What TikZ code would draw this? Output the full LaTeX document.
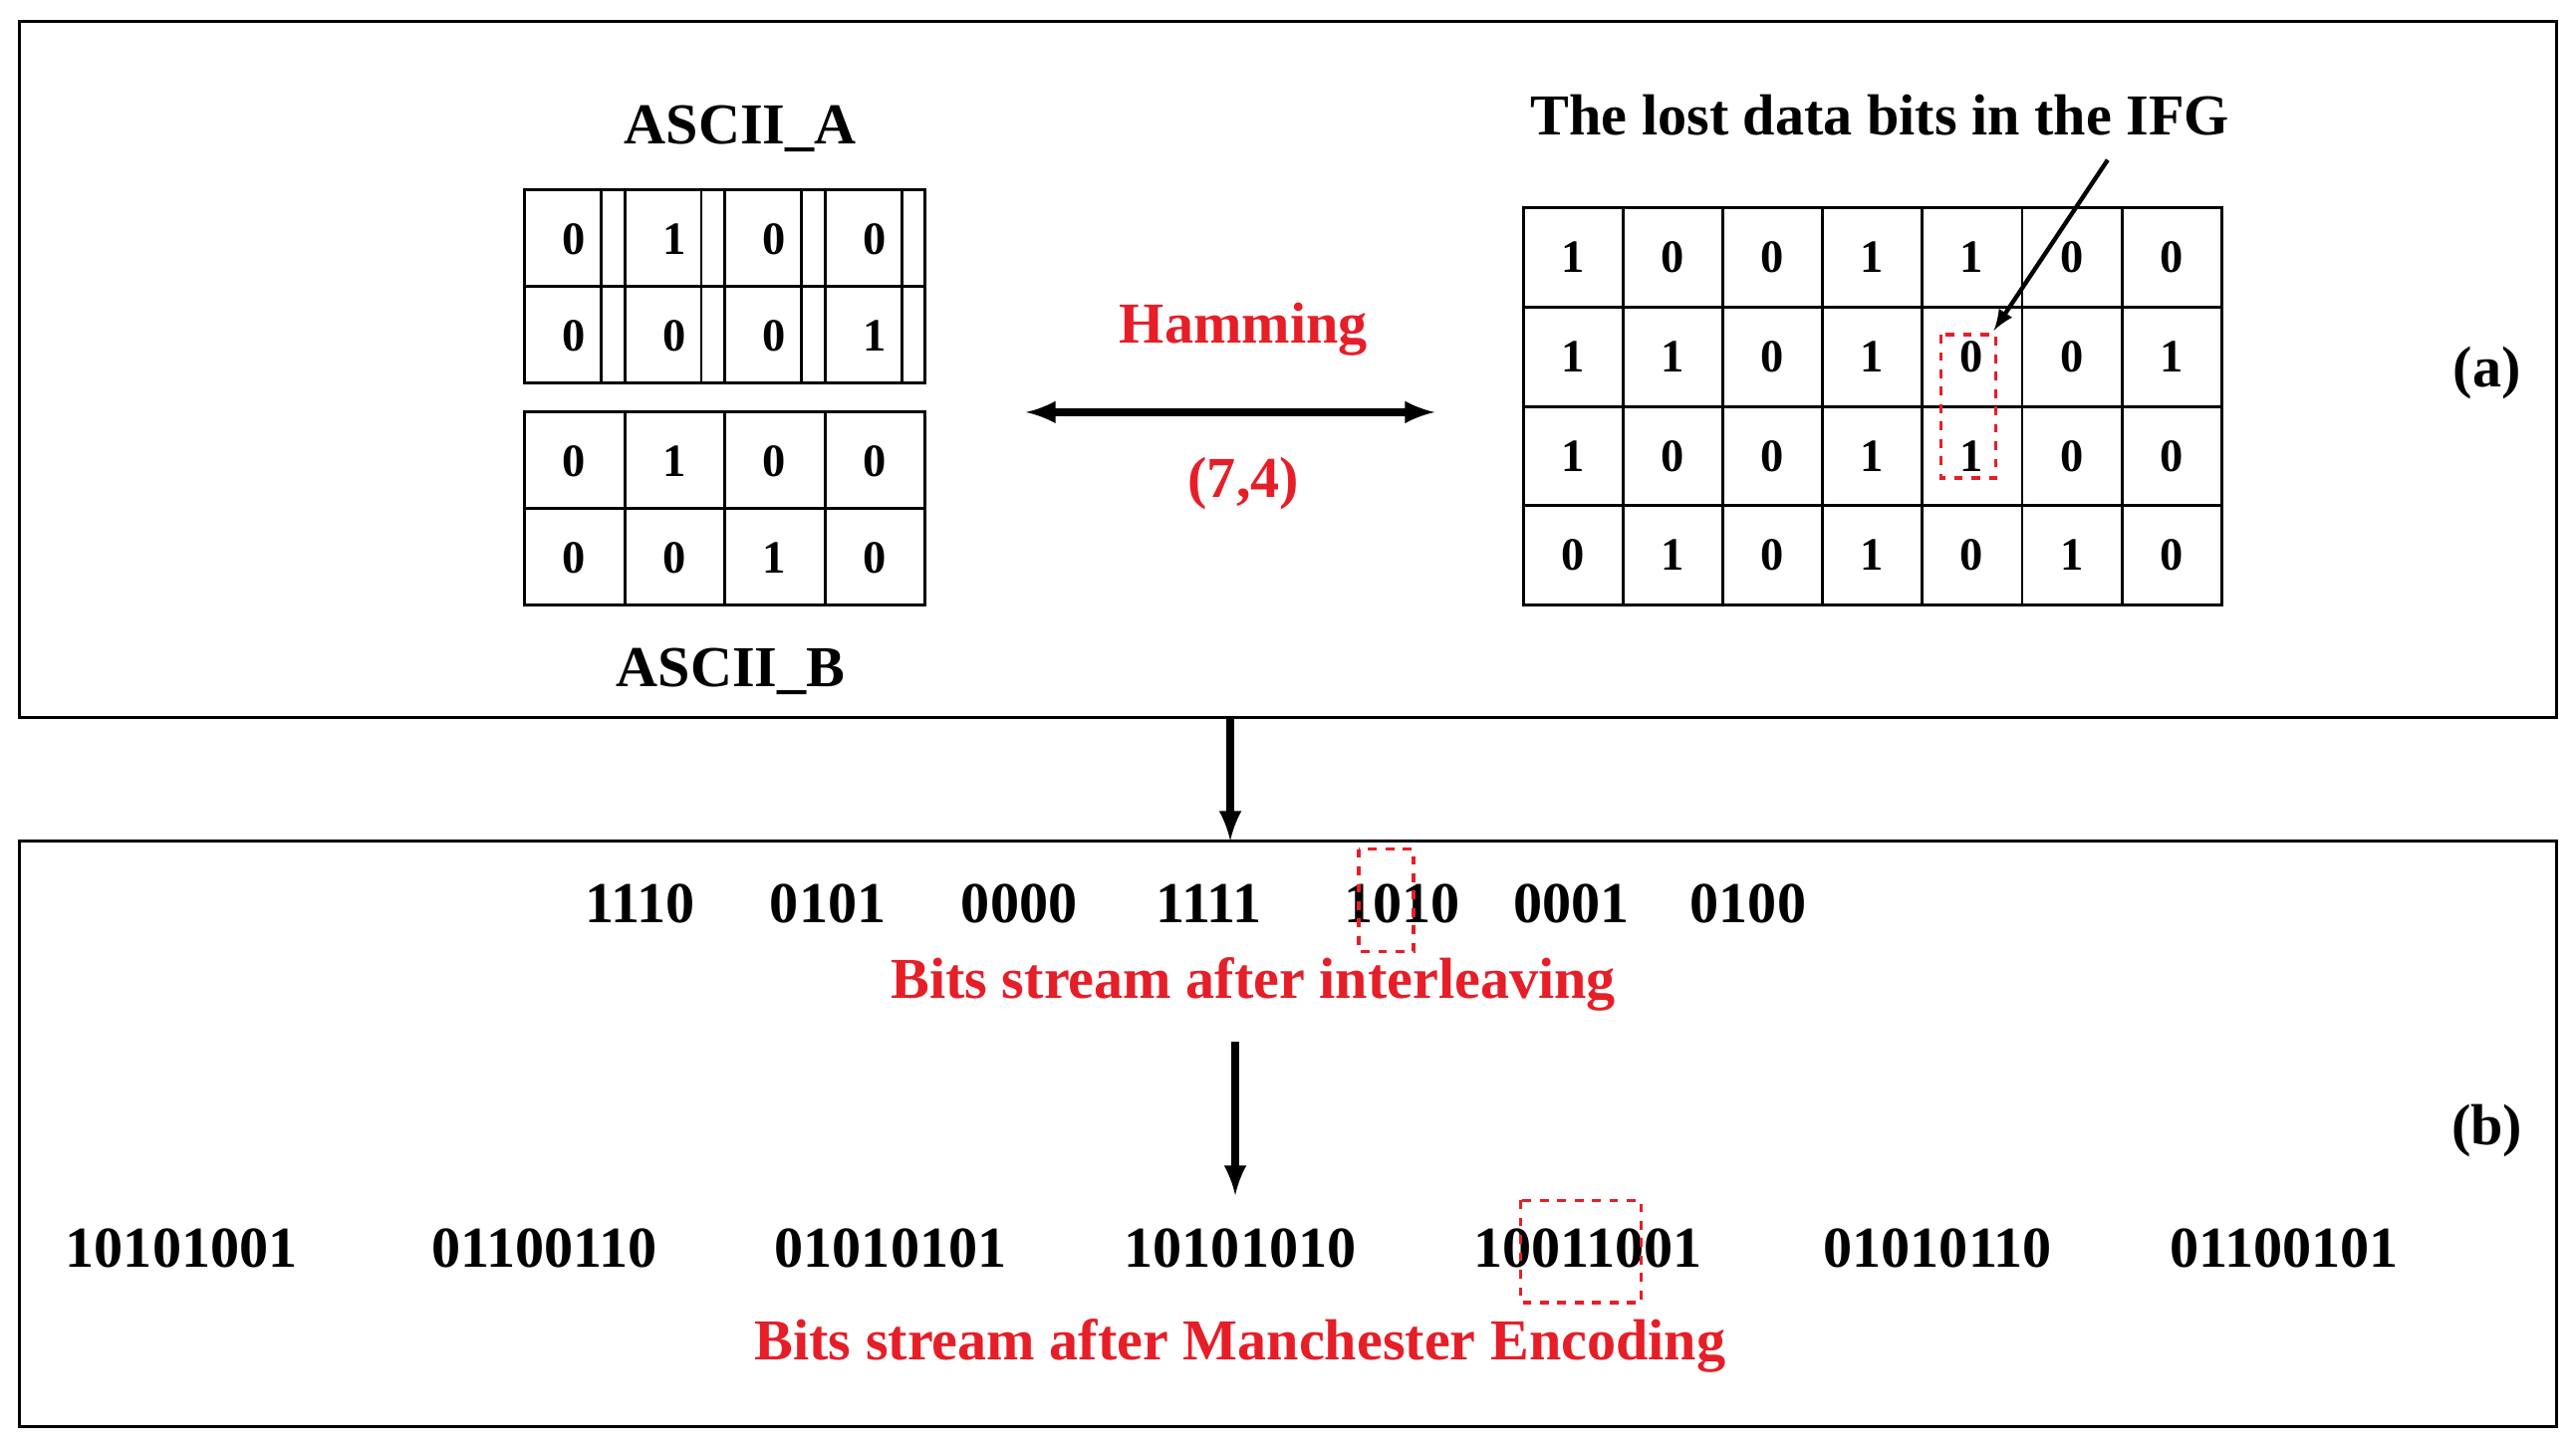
\documentclass[tikz,border=0pt]{standalone}
\usepackage{fontspec}
\setmainfont{Liberation Serif}
\usetikzlibrary{positioning}
\definecolor{myred}{RGB}{230,30,40}
\tikzset{
  big/.style={font=\fontsize{20}{24}\selectfont\bfseries},
  cell/.style={font=\fontsize{16}{19}\selectfont\bfseries},
  redtxt/.style={big,text=myred},
  lost/.style={draw=myred,dashed,line width=1.2pt},
  frame/.style={draw,line width=1pt},
  arr/.style={line width=2.5pt,-latex}
}
\begin{document}
\begin{tikzpicture}[x=0.02cm,y=-0.02cm]
\useasboundingbox (0,0) rectangle (1562,877);
% the two frames
\draw[frame] (12,13) rectangle (1550,435);
\draw[frame] (12,510) rectangle (1550,865);
\node[big] (la) at (1508,226) {(a)};
\node[big] (lb) at (1508,686) {(b)};
%% ASCII grids
\node[big] (asciiA) at (449,78) {ASCII\_A};
\node[big] (asciiB) at (443,407) {ASCII\_B};
\draw[line width=1pt,step=1] (318,115) grid[xstep=60.75,ystep=58.5] (561,232);
\draw[line width=1pt] (318,115) rectangle (561,232);
\draw[line width=1pt] (318,250) rectangle (561,367);
\foreach \i in {1,2,3} \draw[line width=1pt] (318+60.75*\i,115) -- (318+60.75*\i,232);
\foreach \i in {1,2,3} \draw[line width=1pt] (318+60.75*\i,250) -- (318+60.75*\i,367);
\draw[line width=1pt] (318,173.5) -- (561,173.5);
\draw[line width=1pt] (318,308.5) -- (561,308.5);
\foreach \v [count=\i from 0] in {0,1,0,0,0,0,0,1}
  \node[cell] (a\i) at ({348+60.75*mod(\i,4)},{145+58.5*int(\i/4)}) {\v};
\foreach \v [count=\i from 0] in {0,1,0,0,0,0,1,0}
  \node[cell] (b\i) at ({348+60.75*mod(\i,4)},{280+58.5*int(\i/4)}) {\v};
%% Hamming code
\node[redtxt] (ham) at (754,200) {Hamming};
\node[redtxt] (code) at (754,293) {(7,4)};
\coordinate (hl) at (622,250);
\coordinate (hr) at (870,250);
\draw[line width=2.5pt,latex-latex] (hl) -- (hr);
%% coded grid
\draw[line width=1pt] (924,126) rectangle (1347,367);
\foreach \i in {1,...,6} \draw[line width=1pt] (924+60.43*\i,126) -- (924+60.43*\i,367);
\foreach \j in {1,2,3} \draw[line width=1pt] (924,126+60.25*\j) -- (1347,126+60.25*\j);
\foreach \v [count=\i from 0] in {1,0,0,1,1,0,0, 1,1,0,1,0,0,1, 1,0,0,1,1,0,0, 0,1,0,1,0,1,0}
  \node[cell] (c\i) at ({954+60.43*mod(\i,7)},{156+60.25*int(\i/7)}) {\v};
\node[big] (lostt) at (1140,70) {The lost data bits in the IFG};
\draw[lost] (1177,203) rectangle (1210,290);
\coordinate (lp) at (1278,97);
\draw[line width=1.5pt,-latex] (lp) -- (c11.north east);
%% frame arrow
\coordinate (fa) at (746,435);
\coordinate (fb) at (746,510);
\draw[arr] (fa) -- (fb);
%% interleaved stream
\foreach \v/\x [count=\i] in {1110/388,0101/502,0000/618,1111/733,1010/850,0001/953,0100/1060}
  \node[big] (s\i) at (\x,548) {\v};
\draw[lost] (824,515) rectangle (857,577);
\node[redtxt] (inter) at (760,597) {Bits stream after interleaving};
\coordinate (ma) at (749,632);
\coordinate (mb) at (749,725);
\draw[arr] (ma) -- (mb);
%% Manchester stream
\foreach \v/\x [count=\i] in {10101001/110,01100110/330,01010101/540,10101010/752,10011001/963,01010110/1175,01100101/1385}
  \node[big] (m\i) at (\x,757) {\v};
\draw[lost] (922,728) rectangle (995,790);
\node[redtxt] (manch) at (752,816) {Bits stream after Manchester Encoding};
\end{tikzpicture}
\end{document}
